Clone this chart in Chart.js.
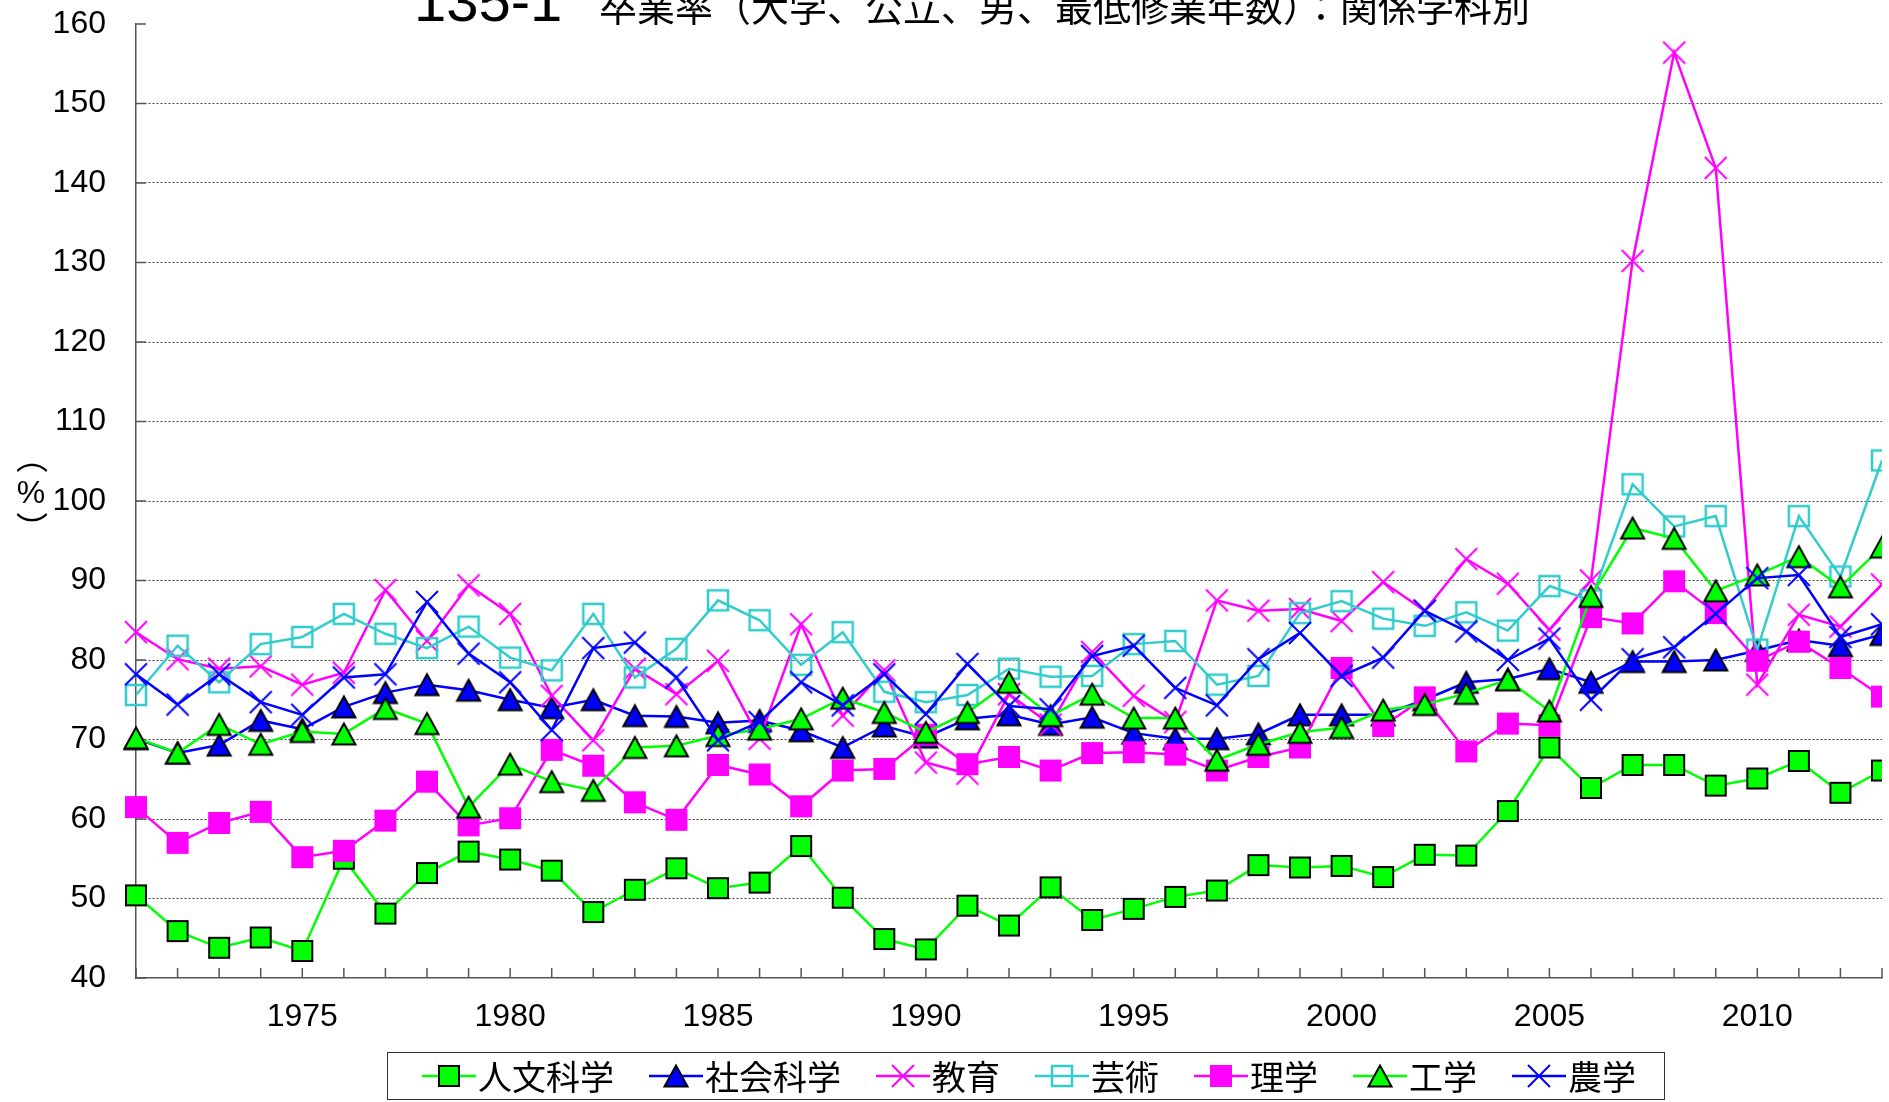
<!DOCTYPE html>
<html>
<head>
<meta charset="utf-8">
<script src="https://cdn.jsdelivr.net/npm/chart.js@4.4.1/dist/chart.umd.min.js"></script>
<style>
  html, body { margin: 0; padding: 0; background: #fff; overflow: hidden; }
  #wrap { position: relative; width: 1889px; height: 1102px; }
  #num { position: absolute; left: 414px; top: -28px; font: 58px "Liberation Sans", Arial, sans-serif; line-height: 1; white-space: nowrap; }
  #ttl { position: absolute; left: 599px; top: -14px; font: 38px "Noto Sans CJK JP", sans-serif; line-height: 1; white-space: nowrap; }
  #legend { position: absolute; left: 387px; top: 1052px; width: 1278px; height: 48px; box-sizing: border-box;
            border: 1.5px solid #333; display: flex; align-items: center; padding-left: 34px; }
  .item { display: flex; align-items: center; margin-right: 35px; flex: none; white-space: nowrap; }
  .item canvas { margin-right: 2px; flex: none; }
  .item span { font: 34px "Noto Sans CJK JP", sans-serif; line-height: 1; }
</style>
</head>
<body>
<div id="wrap">
  <canvas id="chart" width="1889" height="1102"></canvas>
  <div id="num">135-1</div>
  <div id="ttl">卒業率（大学、公立、男、最低修業年数）：関係学科別</div>
  <div id="legend"></div>
</div>
<script>
// ---------- data ----------
const years = [];
for (let y = 1971; y <= 2013; y++) years.push(y);

const jinbun = [50.4, 45.9, 43.8, 45.1, 43.4, 55.0, 48.1, 53.2, 55.9, 54.9,
  53.5, 48.3, 51.1, 53.8, 51.3, 52.0, 56.6, 50.1, 44.9, 43.6,
  49.1, 46.6, 51.4, 47.3, 48.7, 50.2, 51.0, 54.2, 53.9, 54.1,
  52.7, 55.5, 55.4, 61.0, 69.0, 63.9, 66.8, 66.8, 64.2, 65.1,
  67.3, 63.3, 66.1];
const shakai = [70.1, 68.3, 69.3, 72.4, 71.3, 74.1, 75.9, 76.9, 76.2, 75.0,
  74.0, 75.0, 73.0, 72.9, 72.1, 72.4, 71.1, 69.0, 71.7, 70.3,
  72.6, 73.1, 71.9, 72.8, 70.8, 70.1, 70.1, 70.7, 73.1, 73.1,
  73.1, 75.0, 77.2, 77.6, 78.9, 77.2, 79.8, 79.8, 80.0, 81.2,
  82.5, 81.8, 83.2];
const kyoiku = [83.5, 80.1, 78.9, 79.2, 76.9, 78.4, 88.8, 82.4, 89.4, 85.8,
  75.5, 69.9, 78.9, 75.7, 79.9, 70.1, 84.5, 73.0, 78.7, 67.1,
  65.7, 75.7, 71.9, 81.0, 75.5, 72.2, 87.5, 86.2, 86.4, 84.9,
  89.8, 86.2, 92.7, 89.6, 83.8, 90.0, 130.2, 156.4, 141.9, 76.9,
  85.7, 84.2, 89.5];
const geijutsu = [75.6, 81.8, 77.2, 82.0, 82.9, 85.8, 83.3, 81.5, 84.2, 80.3,
  78.7, 85.8, 77.8, 81.4, 87.5, 85.0, 79.4, 83.5, 76.0, 74.7,
  75.6, 78.9, 77.9, 78.0, 82.0, 82.4, 76.9, 78.0, 85.9, 87.4,
  85.2, 84.3, 86.0, 83.7, 89.3, 87.5, 102.1, 96.8, 98.1, 81.3,
  98.1, 90.5, 105.1];
const rigaku = [61.5, 57.0, 59.5, 60.9, 55.2, 56.0, 59.8, 64.7, 59.2, 60.1,
  68.7, 66.7, 62.1, 59.9, 66.8, 65.6, 61.6, 66.1, 66.3, 70.6,
  66.9, 67.8, 66.1, 68.3, 68.4, 68.1, 66.1, 67.8, 69.0, 79.0,
  71.7, 75.3, 68.5, 72.0, 71.8, 85.4, 84.6, 89.9, 85.9, 79.9,
  82.3, 79.0, 75.4];
const kogaku = [70.2, 68.3, 71.9, 69.4, 71.0, 70.7, 73.9, 72.0, 61.5, 66.9,
  64.7, 63.6, 69.0, 69.2, 70.5, 71.3, 72.6, 75.2, 73.4, 70.9,
  73.4, 77.2, 73.0, 75.7, 72.7, 72.7, 67.4, 69.4, 70.9, 71.5,
  73.7, 74.4, 75.8, 77.5, 73.6, 88.0, 96.6, 95.3, 88.7, 90.7,
  93.0, 89.2, 94.2];
const nogaku = [78.2, 74.4, 78.2, 74.7, 73.1, 77.8, 78.2, 87.3, 80.8, 77.2,
  71.2, 81.5, 82.2, 77.8, 69.9, 72.2, 77.2, 74.3, 78.2, 73.2,
  79.5, 74.2, 73.8, 80.5, 81.8, 76.5, 74.3, 80.1, 83.4, 78.0,
  80.3, 86.2, 83.6, 80.0, 82.7, 75.0, 80.1, 81.6, 85.8, 90.3,
  90.7, 82.9, 84.5];

const GREEN = '#00ff00', BLUE = '#0000ff', MAGENTA = '#ff00ff', CYAN = '#33cccc';

// ---------- marker images ----------
function makeMarker(shape, fill, stroke) {
  const s = 28, h = s / 2;
  const c = document.createElement('canvas');
  c.width = s; c.height = s;
  const g = c.getContext('2d');
  g.lineJoin = 'miter';
  if (shape === 'square') {
    g.fillStyle = fill; g.fillRect(h - 10, h - 10, 20, 20);
    g.lineWidth = 2; g.strokeStyle = stroke; g.strokeRect(h - 10, h - 10, 20, 20);
  } else if (shape === 'open') {
    g.lineWidth = 2.5; g.strokeStyle = stroke; g.strokeRect(h - 10, h - 10, 20, 20);
  } else if (shape === 'tri') {
    g.beginPath();
    g.moveTo(h, h - 10.5); g.lineTo(h + 11.5, h + 10.5); g.lineTo(h - 11.5, h + 10.5); g.closePath();
    g.fillStyle = fill; g.fill();
    g.lineWidth = 2; g.strokeStyle = stroke; g.stroke();
  } else if (shape === 'x') {
    g.beginPath();
    g.moveTo(h - 11, h - 11); g.lineTo(h + 11, h + 11);
    g.moveTo(h + 11, h - 11); g.lineTo(h - 11, h + 11);
    g.lineWidth = 2; g.strokeStyle = stroke; g.stroke();
  }
  return c;
}

const series = [
  { label: '人文科学', data: jinbun,   color: GREEN,   marker: makeMarker('square', GREEN, '#000') },
  { label: '社会科学', data: shakai,   color: BLUE,    marker: makeMarker('tri', BLUE, '#000') },
  { label: '教育',     data: kyoiku,   color: MAGENTA, marker: makeMarker('x', null, MAGENTA) },
  { label: '芸術',     data: geijutsu, color: CYAN,    marker: makeMarker('open', null, CYAN) },
  { label: '理学',     data: rigaku,   color: MAGENTA, marker: makeMarker('square', MAGENTA, MAGENTA) },
  { label: '工学',     data: kogaku,   color: GREEN,   marker: makeMarker('tri', GREEN, '#000') },
  { label: '農学',     data: nogaku,   color: BLUE,    marker: makeMarker('x', null, BLUE) }
];

// ---------- small inward tick marks + vertical (%) label ----------
const axisExtras = {
  id: 'axisExtras',
  beforeDatasetsDraw(chart) {
    const { ctx, chartArea: a, scales: { x, y } } = chart;
    ctx.save();
    ctx.strokeStyle = '#555';
    ctx.lineWidth = 1.5;
    ctx.beginPath();
    years.forEach((yr, i) => {
      const px = x.getPixelForValue(i);
      ctx.moveTo(px, a.bottom); ctx.lineTo(px, a.bottom - 10);
    });
    for (let v = 40; v <= 160; v += 10) {
      const py = y.getPixelForValue(v);
      ctx.moveTo(a.left, py); ctx.lineTo(a.left + 10, py);
    }
    ctx.stroke();
    ctx.restore();
  },
  afterDraw(chart) {
    const { ctx } = chart;
    ctx.save();
    ctx.fillStyle = '#000';
    ctx.textAlign = 'center';
    ctx.textBaseline = 'middle';
    ctx.font = '32px "Noto Sans CJK JP"';
    ctx.fillText('︵', 32, 457);
    ctx.fillText('︶', 32, 528);
    ctx.font = '32px "Liberation Sans"';
    ctx.fillText('%', 31, 494);
    ctx.restore();
  }
};

const ctx = document.getElementById('chart').getContext('2d');
const chart = new Chart(ctx, {
  type: 'line',
  data: {
    labels: years,
    datasets: series.map((s, i) => ({
      label: s.label,
      data: s.data,
      borderColor: s.color,
      backgroundColor: s.color,
      borderWidth: 2.5,
      pointStyle: s.marker,
      pointRadius: 12,
      pointHoverRadius: 12,
      tension: 0,
      order: series.length - i,   // later series on top
      clip: { left: false, top: false, right: 0, bottom: false }
    }))
  },
  options: {
    responsive: false,
    animation: false,
    events: [],
    layout: { autoPadding: false, padding: { top: 24, right: 7, bottom: 0, left: 0 } },
    plugins: { legend: { display: false }, title: { display: false }, tooltip: { enabled: false } },
    scales: {
      x: {
        offset: false,
        grid: { display: false, drawTicks: false },
        border: { display: true, color: '#555', width: 1.5 },
        ticks: {
          autoSkip: false, maxRotation: 0, padding: 20, color: '#000',
          font: { family: '"Liberation Sans", Arial, sans-serif', size: 32 },
          callback: (v, i) => (years[i] % 5 === 0 ? String(years[i]) : '')
        },
        afterFit: s => { s.height = 124; s.paddingLeft = 0; s.paddingRight = 0; }
      },
      y: {
        min: 40, max: 160,
        grid: {
          drawTicks: false, lineWidth: 1,
          color: c => (c.tick && (c.tick.value === 40 || c.tick.value === 160)) ? 'rgba(0,0,0,0)' : '#444'
        },
        border: { display: true, color: '#555', width: 1.5, dash: [2, 2] },
        ticks: {
          stepSize: 10, padding: 30, color: '#000',
          font: { family: '"Liberation Sans", Arial, sans-serif', size: 32 }
        },
        afterFit: s => { s.width = 136; s.paddingTop = 0; s.paddingBottom = 0; }
      }
    }
  },
  plugins: [axisExtras]
});

// ---------- legend (line + marker, then text) ----------
const legend = document.getElementById('legend');
series.forEach(s => {
  const item = document.createElement('div');
  item.className = 'item';
  const c = document.createElement('canvas');
  c.width = 54; c.height = 30;
  const g = c.getContext('2d');
  g.strokeStyle = s.color; g.lineWidth = 2.5;
  g.beginPath(); g.moveTo(0, 15); g.lineTo(54, 15); g.stroke();
  g.drawImage(s.marker, 27 - s.marker.width / 2, 15 - s.marker.height / 2);
  const t = document.createElement('span');
  t.textContent = s.label;
  item.appendChild(c); item.appendChild(t);
  legend.appendChild(item);
});
</script>
</body>
</html>
